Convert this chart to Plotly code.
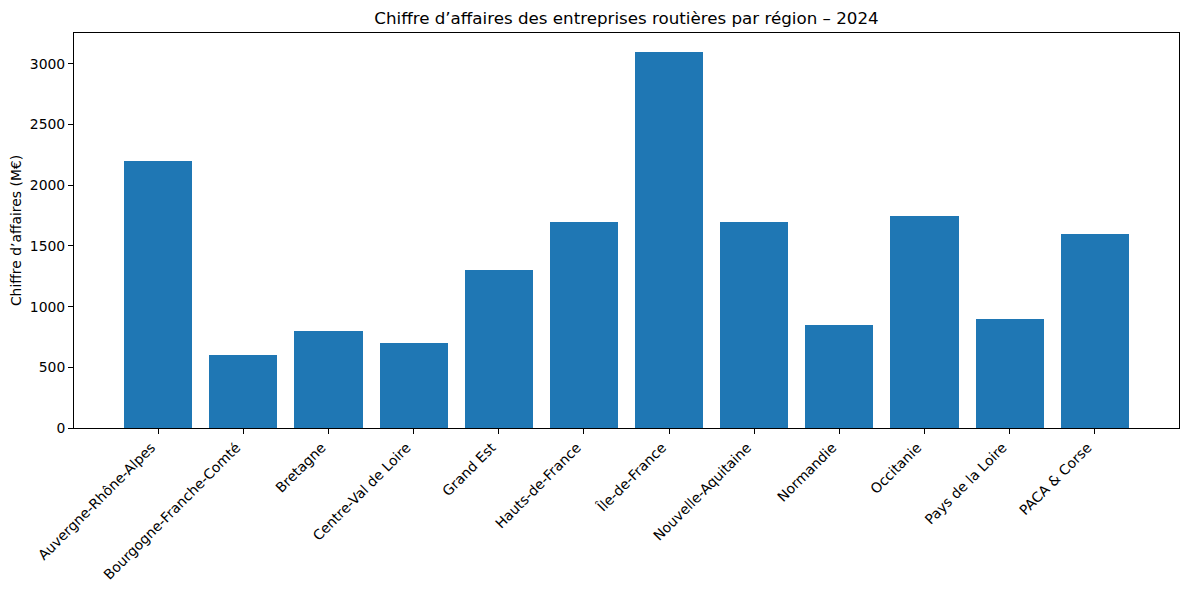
import plotly.graph_objects as go

regions = ["Auvergne-Rhône-Alpes", "Bourgogne-Franche-Comté", "Bretagne", "Centre-Val de Loire",
           "Grand Est", "Hauts-de-France", "Île-de-France", "Nouvelle-Aquitaine", "Normandie",
           "Occitanie", "Pays de la Loire", "PACA & Corse"]
revenue = [2200, 600, 800, 700, 1300, 1700, 3100, 1700, 850, 1750, 900, 1600]
y_ticks = [0, 500, 1000, 1500, 2000, 2500, 3000]

fig = go.Figure(go.Bar(x=list(range(len(regions))), y=revenue, width=0.8,
                       marker=dict(color="#1f77b4", line=dict(width=0))))

font = "DejaVu Sans"
W, H = 1182, 582
fig.update_layout(
    width=W, height=H,
    margin=dict(l=66, r=11, t=25, b=162, autoexpand=False),
    plot_bgcolor="white", paper_bgcolor="white",
    font=dict(family=font, size=13.9, color="black"),
    title=dict(text="Chiffre d’affaires des entreprises routières par région – 2024",
               x=0.5, xanchor="center", y=1 - 10/H, yanchor="middle",
               xref="paper", yref="container", font=dict(size=16.7, family=font, color="black")),
    showlegend=False,
    bargap=0,
)
fig.update_xaxes(range=[-0.99, 11.99], tickmode="array", tickvals=list(range(len(regions))),
                 ticktext=regions, tickangle=-45, ticks="outside", ticklen=5, tickcolor="black",
                 showline=True, linecolor="black", linewidth=1, mirror=True, showgrid=False,
                 zeroline=False, tickfont=dict(size=13.9), ticklabelshift=-7)
fig.update_yaxes(range=[0, 3255], tickmode="array", tickvals=y_ticks,
                 ticks="outside", ticklen=5, tickcolor="black",
                 showline=True, linecolor="black", linewidth=1, mirror=True, showgrid=False,
                 zeroline=False, tickfont=dict(size=13.9),
                 title=dict(text="Chiffre d’affaires (M€)", font=dict(size=13.9), standoff=10))

fig.write_html("out.html")
